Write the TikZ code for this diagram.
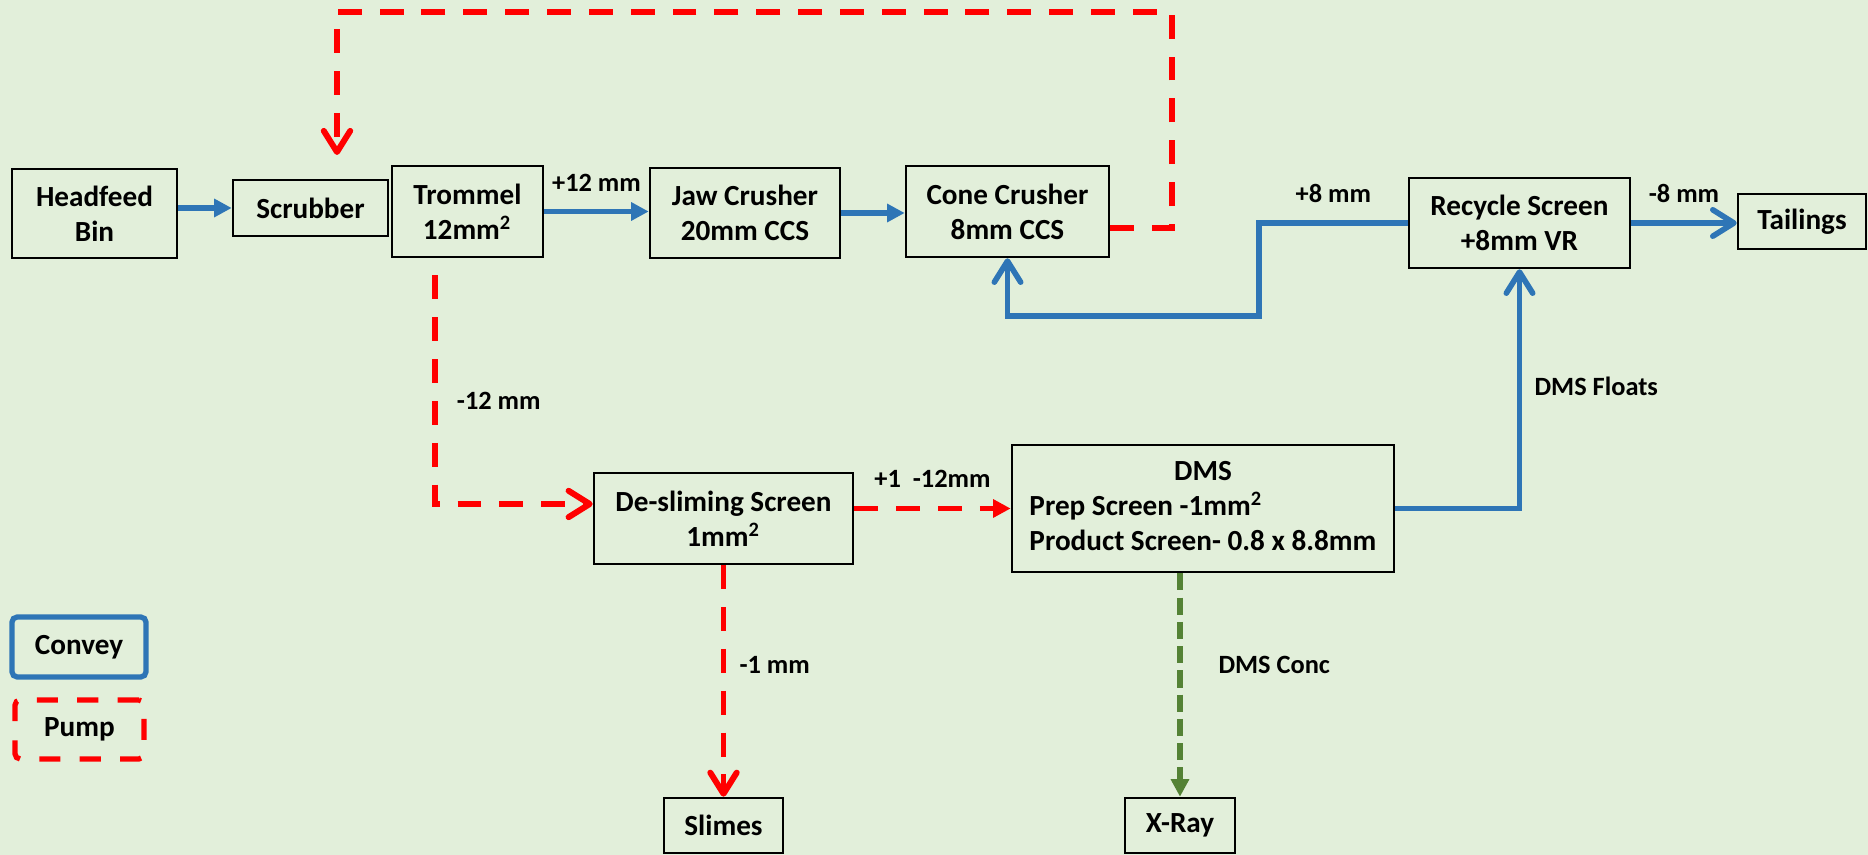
\documentclass[tikz,border=0pt]{standalone}
\usepackage{fontspec}
\setmainfont{Carlito}
\usepackage{tikz}
\usetikzlibrary{arrows.meta,positioning,calc}
\definecolor{PageGreen}{HTML}{E2EFDA}
\definecolor{BeltBlue}{HTML}{2E75B6}
\definecolor{PumpRed}{HTML}{FF0000}
\definecolor{ConcGreen}{HTML}{548235}

\begin{document}
\begin{tikzpicture}[x=0.01cm,y=-0.01cm,
  unit/.style={draw=black,line width=0.7pt,align=center,inner sep=0pt,font=\fontsize{8.3}{10}\selectfont\bfseries},
  lbl/.style={font=\fontsize{7.5}{9}\selectfont\bfseries,inner sep=2pt},
  belt/.style={draw=BeltBlue,line width=1.6pt},
  pump/.style={draw=PumpRed,line width=1.7pt,dash pattern=on 6.8pt off 5.1pt},
  conc/.style={draw=ConcGreen,line width=1.9pt,dash pattern=on 4.9pt off 2pt},
  solid head/.style={-{Triangle[length=5pt,width=5pt]}},
  barb head/.style={-{Straight Barb[length=6pt,width=7.5pt,round]}}
]
\fill[PageGreen] (0,0) rectangle (1868,855);
% plant units
\node[unit,minimum width=1.65cm,minimum height=0.89cm] (head) at (94.5,213.5) {Headfeed\\Bin};
\node[unit,minimum width=1.55cm,minimum height=0.56cm] (scrub) at (310.5,208) {Scrubber};
\node[unit,minimum width=1.51cm,minimum height=0.91cm] (trom) at (467.5,211.5) {Trommel\\12mm\textsuperscript{2}};
\node[unit,minimum width=1.90cm,minimum height=0.90cm] (jaw) at (745,213) {Jaw Crusher\\20mm CCS};
\node[unit,minimum width=2.03cm,minimum height=0.91cm] (cone) at (1007.5,211.5) {Cone Crusher\\8mm CCS};
\node[unit,minimum width=2.21cm,minimum height=0.90cm] (recyc) at (1519.5,223) {Recycle Screen\\+8mm VR};
\node[unit,minimum width=1.28cm,minimum height=0.55cm] (tail) at (1802,221.5) {Tailings};
\node[unit,minimum width=2.59cm,minimum height=0.91cm] (desl) at (723.5,518.5) {De-sliming Screen\\1mm\textsuperscript{2}};
\node[unit,minimum width=3.82cm,minimum height=1.27cm] (dms) at (1203,508.5)
  {\begin{tabular}{@{}l@{}}\multicolumn{1}{@{}c@{}}{DMS}\\Prep Screen -1mm\textsuperscript{2}\\Product Screen- 0.8 x 8.8mm\end{tabular}};
\node[unit,minimum width=1.19cm,minimum height=0.55cm] (slimes) at (723.5,825.5) {Slimes};
\node[unit,minimum width=1.10cm,minimum height=0.55cm] (xray) at (1180,825.5) {X-Ray};
% legend
\node[unit,draw=BeltBlue,line width=1.5pt,rounded corners=1.5pt,minimum width=1.34cm,minimum height=0.60cm] (convey) at (79,647) {Convey};
\node[unit,draw=PumpRed,line width=1.5pt,dash pattern=on 6pt off 5.5pt,rounded corners=1.5pt,minimum width=1.29cm,minimum height=0.59cm] (pumpkey) at (79.5,729.5) {Pump};
% bends
\coordinate (loopR) at (1172,12);
\coordinate (scrubIn) at (337,155);
\coordinate (recBend) at (1259,316);
% conveyors
\draw[belt,solid head] (head.east |- scrub.west) -- (scrub.west);
\draw[belt,solid head] (trom.east) -- node[lbl,midway,above=3pt]{+12 mm} (trom.east -| jaw.west);
\draw[belt,solid head] (jaw.east) -- (jaw.east -| cone.west);
\draw[belt,barb head] (recyc.east) -- node[lbl,midway,above=3pt]{-8 mm} (recyc.east -| tail.west);
\draw[belt,barb head] (recyc.west) -| node[lbl,pos=0.25,above=3pt]{+8 mm} (recBend) -| (cone.south);
\draw[belt,barb head] (dms.east) -| node[lbl,pos=0.755,right=1.5pt]{DMS Floats} (recyc.south);
% pumped lines
\draw[pump,barb head] ([yshift=-0.165cm]cone.east) -| (loopR) -| (scrubIn);
\draw[pump,barb head,dash phase=7pt] ([xshift=-0.325cm]trom.south) |- node[lbl,pos=0.29,right=3.4pt]{-12 mm} ([yshift=0.145cm]desl.west);
\draw[pump,solid head] (desl.east |- dms.west) -- node[lbl,midway,above=3pt]{+1\ \ -12mm} (dms.west);
\draw[pump,barb head] (slimes.north |- desl.south) -- node[lbl,pos=0.43,right=1.7pt]{-1 mm} (slimes.north);
\draw[conc,solid head] (xray.north |- dms.south) -- node[lbl,pos=0.41,right=8pt]{DMS Conc} (xray.north);
\end{tikzpicture}
\end{document}
